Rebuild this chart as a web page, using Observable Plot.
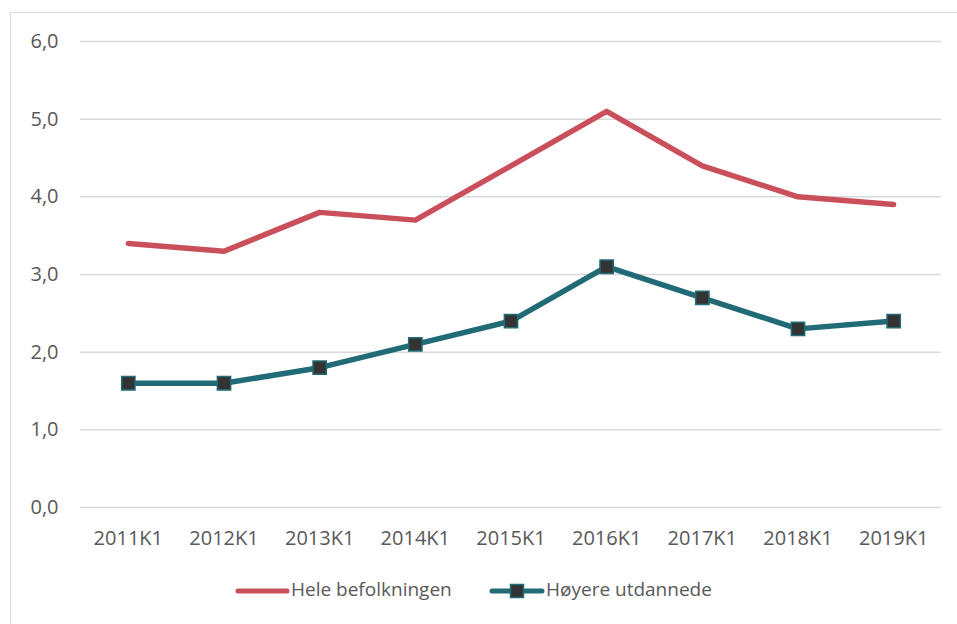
<!DOCTYPE html>
<html>
<head>
<meta charset="utf-8">
<script src="https://cdn.jsdelivr.net/npm/d3@7"></script>
<script src="https://cdn.jsdelivr.net/npm/@observablehq/plot@0.6"></script>
<style>
  html, body { margin: 0; padding: 0; background: #fff; width: 957px; height: 624px; overflow: hidden; }
  #frame { position: absolute; left: 10px; top: 12px; width: 1000px; height: 700px; border-left: 1.5px solid #d9d9d9; border-top: 1.5px solid #d9d9d9; }
  #chart { position: absolute; left: 0; top: 0; }
  .leg { position: absolute; font-family: "Open Sans", sans-serif; font-size: 19px; color: #595959; line-height: 1; }
</style>
</head>
<body>
<div id="frame"></div>
<div id="chart"></div>
<svg class="leg" style="left:230px; top:580px;" width="64" height="22">
  <line x1="8" x2="57" y1="11" y2="11" stroke="#C9505B" stroke-width="5" stroke-linecap="round"/>
</svg>
<div class="leg" id="l1" style="left:291px; top:580px;"></div>
<svg class="leg" style="left:484px; top:580px;" width="64" height="22">
  <line x1="8" x2="58" y1="11" y2="11" stroke="#206B76" stroke-width="5" stroke-linecap="round"/>
  <rect x="26.5" y="4.5" width="13" height="13" fill="#333333" stroke="#206B76" stroke-width="1.5"/>
</svg>
<div class="leg" id="l2" style="left:546px; top:580px;"></div>
<script>
const periods = ["2011K1","2012K1","2013K1","2014K1","2015K1","2016K1","2017K1","2018K1","2019K1"];
const hele = [3.4, 3.3, 3.8, 3.7, 4.4, 5.1, 4.4, 4.0, 3.9];
const hoyere = [1.6, 1.6, 1.8, 2.1, 2.4, 3.1, 2.7, 2.3, 2.4];
const yTicks = [0, 1, 2, 3, 4, 5, 6];
const seriesNames = ["Hele befolkningen", "Høyere utdannede"];

document.getElementById("l1").textContent = seriesNames[0];
document.getElementById("l2").textContent = seriesNames[1];

const dHele = periods.map((p, i) => ({period: p, value: hele[i]}));
const dHoy = periods.map((p, i) => ({period: p, value: hoyere[i]}));

const chart = Plot.plot({
  width: 957,
  height: 547,
  marginTop: 41,
  marginBottom: 40,
  marginLeft: 80,
  marginRight: 16,
  style: { fontFamily: "'Open Sans', sans-serif", fontSize: "20px", color: "#595959", background: "transparent", overflow: "visible" },
  x: { type: "point", domain: periods, padding: 0.5, round: false, label: null },
  y: { domain: [0, 6], label: null },
  marks: [
    Plot.ruleY(yTicks, { stroke: "#d9d9d9", strokeWidth: 1.5 }),
    Plot.axisX({ tickSize: 0, tickPadding: 23, fill: "#595959", fontSize: 20 }),
    Plot.axisY(yTicks, { tickSize: 0, tickPadding: 22, tickFormat: d => d.toFixed(1).replace(".", ","), fill: "#595959", fontSize: 20 }),
    Plot.line(dHele, { x: "period", y: "value", stroke: "#C9505B", strokeWidth: 5.5, strokeLinejoin: "round", strokeLinecap: "round" }),
    Plot.line(dHoy, { x: "period", y: "value", stroke: "#206B76", strokeWidth: 5.5, strokeLinejoin: "round", strokeLinecap: "round" }),
    Plot.dot(dHoy, { x: "period", y: "value", symbol: "square", r: 7.5, fill: "#333333", stroke: "#206B76", strokeWidth: 1.5 })
  ]
});
document.getElementById("chart").appendChild(chart);
</script>
</body>
</html>
